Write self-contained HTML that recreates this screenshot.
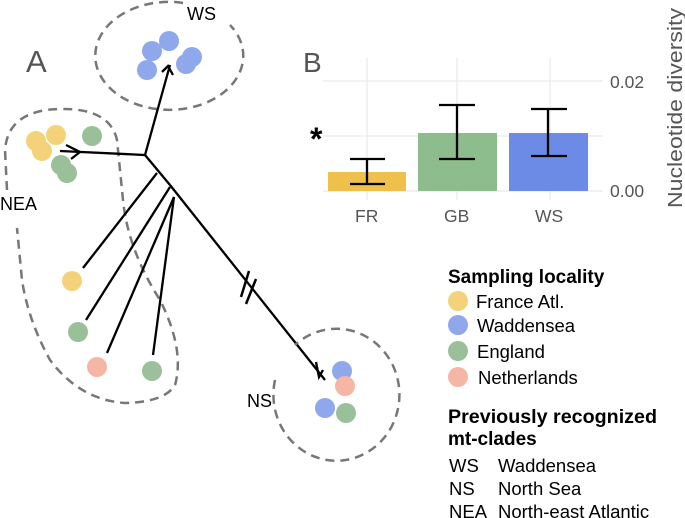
<!DOCTYPE html>
<html><head><meta charset="utf-8"><style>
body{margin:0;background:#fff}
svg{display:block}
text{font-family:"Liberation Sans",sans-serif}
</style></head><body>
<svg width="685" height="518" viewBox="0 0 685 518" xmlns="http://www.w3.org/2000/svg">
<!-- Panel A -->
<text x="26" y="72" font-size="31" fill="#555">A</text>
<path d="M183 3 A74 54 0 0 0 175 2 A74 54 0 1 0 230 25" fill="none" stroke="#777" stroke-width="2.5" stroke-dasharray="9,6"/>
<text x="187" y="20" font-size="18" fill="#000">WS</text>
<g fill="#6a8ce6" opacity="0.75">
<circle cx="169" cy="41" r="10"/><circle cx="152" cy="51" r="10"/><circle cx="147" cy="70" r="10"/><circle cx="192" cy="57" r="10"/><circle cx="186" cy="64" r="10"/>
</g>
<path d="M7 190 L5 150 Q8 110 60 109 Q110 108 117 140 L123 200 Q128 250 160 300 Q185 350 175 385 Q165 402 125 403 Q80 400 50 360 Q28 320 22 280 L17 228" fill="none" stroke="#777" stroke-width="2.5" stroke-dasharray="9,6"/>
<text x="0" y="210" font-size="18" fill="#000">NEA</text>
<g opacity="0.75">
<circle cx="36" cy="141" r="10" fill="#f0c44e"/><circle cx="56" cy="135" r="10" fill="#f0c44e"/><circle cx="42" cy="151" r="10" fill="#f0c44e"/>
<circle cx="92" cy="136" r="10" fill="#79ab79"/><circle cx="61" cy="165" r="10" fill="#79ab79"/><circle cx="67" cy="173" r="10" fill="#79ab79"/>
<circle cx="72" cy="281" r="10" fill="#f0c44e"/>
<circle cx="78" cy="332" r="10" fill="#79ab79"/>
<circle cx="97" cy="367" r="10" fill="#f29e87"/>
<circle cx="152" cy="371" r="10" fill="#79ab79"/>
</g>
<g stroke="#000" stroke-width="2.3" fill="none">
<path d="M60 151 L145 155 L170 65"/>
<path d="M66 145 L80 152 L71 159"/>
<path d="M162 72 L168 66 L173 75"/>
<path d="M145 155 L170 185"/>
<path d="M157 173 L83 268"/>
<path d="M170 187 L86 320"/>
<path d="M174 197 L107 353"/>
<path d="M174 197 L153 355"/>
<path d="M170 185 L325 380"/>
<path d="M241 297 L249 271 M246 304 L256 279" stroke-width="2.5"/>
<path d="M316 362 L319 377 L323 370"/>
</g>
<path d="M275 380 A63 66 0 1 0 295 345" fill="none" stroke="#777" stroke-width="2.5" stroke-dasharray="9,6"/>
<text x="247" y="407" font-size="18" fill="#000">NS</text>
<g opacity="0.75">
<circle cx="342" cy="371" r="10" fill="#6a8ce6"/><circle cx="345" cy="386" r="10" fill="#f29e87"/><circle cx="325" cy="408" r="10" fill="#6a8ce6"/><circle cx="346" cy="413" r="10" fill="#79ab79"/>
</g>
<!-- Panel B -->
<text x="303" y="72" font-size="28" fill="#555">B</text>
<g stroke="#e6e6e6" stroke-width="1">
<line x1="323" y1="81" x2="603" y2="81"/><line x1="323" y1="136" x2="603" y2="136"/><line x1="323" y1="191" x2="603" y2="191"/>
<line x1="367" y1="58" x2="367" y2="200"/><line x1="457" y1="58" x2="457" y2="200"/><line x1="550" y1="58" x2="550" y2="200"/>
</g>
<rect x="328" y="172" width="78" height="19" fill="#efc04a"/>
<rect x="418" y="133" width="79" height="58" fill="#8dbc8d"/>
<rect x="509" y="133" width="79" height="58" fill="#6b8be6"/>
<g stroke="#000" stroke-width="2.3">
<path d="M367 159 V184 M350 159 H385 M350 184 H385"/>
<path d="M457 105 V159 M439 105 H475 M439 159 H475"/>
<path d="M548 109 V156 M531 109 H567 M531 156 H567"/>
</g>
<text x="310" y="150" font-size="32" font-weight="bold">*</text>
<text x="610" y="88" font-size="17.5" fill="#555">0.02</text>
<text x="610" y="197" font-size="17.5" fill="#555">0.00</text>
<text x="355" y="222" font-size="17.5" fill="#555">FR</text>
<text x="444" y="222" font-size="17.5" fill="#555">GB</text>
<text x="535" y="222" font-size="17.5" fill="#555">WS</text>
<text transform="translate(682,208) rotate(-90)" font-size="20" fill="#555" textLength="200" lengthAdjust="spacingAndGlyphs">Nucleotide diversity</text>
<!-- Legend -->
<text x="448" y="283" font-size="19" font-weight="bold">Sampling locality</text>
<g opacity="0.75">
<circle cx="458" cy="301" r="10" fill="#f0c44e"/><circle cx="458" cy="325" r="10" fill="#6a8ce6"/><circle cx="458" cy="351" r="10" fill="#79ab79"/><circle cx="458" cy="377" r="10" fill="#f29e87"/>
</g>
<g font-size="18.5">
<text x="476" y="308">France Atl.</text>
<text x="477" y="332">Waddensea</text>
<text x="477" y="358">England</text>
<text x="478" y="384">Netherlands</text>
</g>
<text x="448" y="423" font-size="19" font-weight="bold" textLength="209" lengthAdjust="spacingAndGlyphs">Previously recognized</text>
<text x="448" y="445" font-size="19" font-weight="bold">mt-clades</text>
<g font-size="18.5">
<text x="449" y="472">WS</text><text x="498" y="472">Waddensea</text>
<text x="449" y="495">NS</text><text x="498" y="495">North Sea</text>
<text x="449" y="518">NEA</text><text x="498" y="518">North-east Atlantic</text>
</g>
</svg>
</body></html>
